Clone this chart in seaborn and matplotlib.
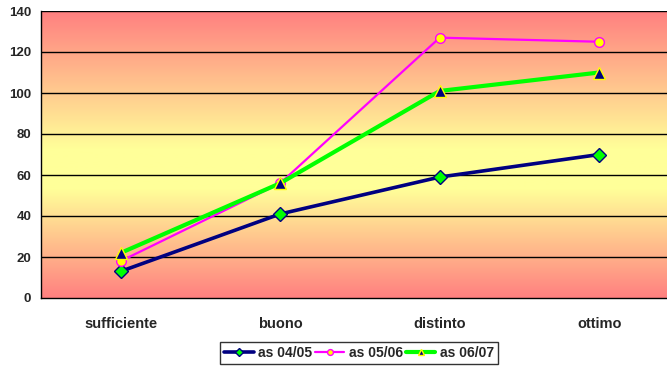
import numpy as np
import pandas as pd
import matplotlib
matplotlib.use("Agg")
import matplotlib.pyplot as plt
from matplotlib.colors import LinearSegmentedColormap
import seaborn as sns

categories = ["sufficiente", "buono", "distinto", "ottimo"]
as_04_05 = [13, 41, 59, 70]
as_05_06 = [18, 56, 127, 125]
as_06_07 = [22, 56, 101, 110]
series_names = ["as 04/05", "as 05/06", "as 06/07"]
y_ticks = [0, 20, 40, 60, 80, 100, 120, 140]

sns.set_theme(style="white")
plt.rcParams["font.family"] = ["Liberation Sans", "DejaVu Sans"]
plt.rcParams["font.weight"] = "bold"

df = pd.DataFrame({
    "categoria": categories * 3,
    "valore": as_04_05 + as_05_06 + as_06_07,
    "serie": [series_names[0]] * 4 + [series_names[1]] * 4 + [series_names[2]] * 4,
})

fig = plt.figure(figsize=(6.67, 3.67), dpi=100)
ax = fig.add_axes([41 / 667, 1 - 298 / 367, 638 / 667, 287 / 367])

# vertical salmon-yellow-salmon gradient behind the plot area
grad_cmap = LinearSegmentedColormap.from_list(
    "bg", [(0.0, "#ff8080"), (0.48, "#ffff99"), (0.62, "#ffff99"), (1.0, "#ff8080")]
)
grad = np.linspace(0, 1, 256).reshape(-1, 1)
ax.imshow(grad, aspect="auto", cmap=grad_cmap, extent=[-0.5, 3.5, 0, 140],
          origin="upper", zorder=0)

styles = {
    "as 04/05": dict(color="#000080", linewidth=2.6, marker="D", markersize=7,
                     markerfacecolor="#00ff00", markeredgecolor="#000080", markeredgewidth=1),
    "as 05/06": dict(color="#ff00ff", linewidth=1.6, marker="o", markersize=7,
                     markerfacecolor="#ffff00", markeredgecolor="#ff00ff", markeredgewidth=1),
    "as 06/07": dict(color="#00ff00", linewidth=3.0, marker="^", markersize=8,
                     markerfacecolor="#000080", markeredgecolor="#ffff00", markeredgewidth=1),
}

for name in series_names:
    sub = df[df["serie"] == name]
    sns.lineplot(data=sub, x="categoria", y="valore", ax=ax, label=name,
                 sort=False, zorder=3, **styles[name])

ax.set_xlim(-0.5, 3.5)
ax.set_ylim(0, 140)
ax.set_yticks(y_ticks)
ax.set_yticklabels([str(v) for v in y_ticks], fontsize=9.5, fontweight="bold")
ax.set_xticks(range(len(categories)))
ax.set_xticklabels(categories, fontsize=10.5, fontweight="bold")
ax.set_xticks([0.5, 1.5, 2.5], minor=True)
ax.tick_params(axis="x", which="major", length=0, pad=14)
ax.tick_params(axis="x", which="minor", length=4, color="black", width=1, direction="out")
ax.tick_params(axis="y", length=4, color="black", width=1, direction="out", pad=3)
ax.set_xlabel("")
ax.set_ylabel("")

for v in y_ticks[1:]:
    ax.axhline(v, color="black", linewidth=1, zorder=1)

for side in ["top", "right"]:
    ax.spines[side].set_visible(False)
for side in ["left", "bottom"]:
    ax.spines[side].set_color("black")
    ax.spines[side].set_linewidth(1)

ax.get_legend().remove()
handles, labels = ax.get_legend_handles_labels()
leg = fig.legend(handles, labels, loc="center", bbox_to_anchor=(359 / 667, 1 - 353 / 367),
                 ncol=3, frameon=True, fancybox=False, fontsize=10,
                 handlelength=2.1, handletextpad=0.3, columnspacing=0.25,
                 borderpad=0.3, borderaxespad=0, markerscale=0.6)
leg.get_frame().set_edgecolor("black")
leg.get_frame().set_linewidth(1)
for t in leg.get_texts():
    t.set_fontweight("bold")

fig.savefig("out.png", dpi=100, facecolor="white")
